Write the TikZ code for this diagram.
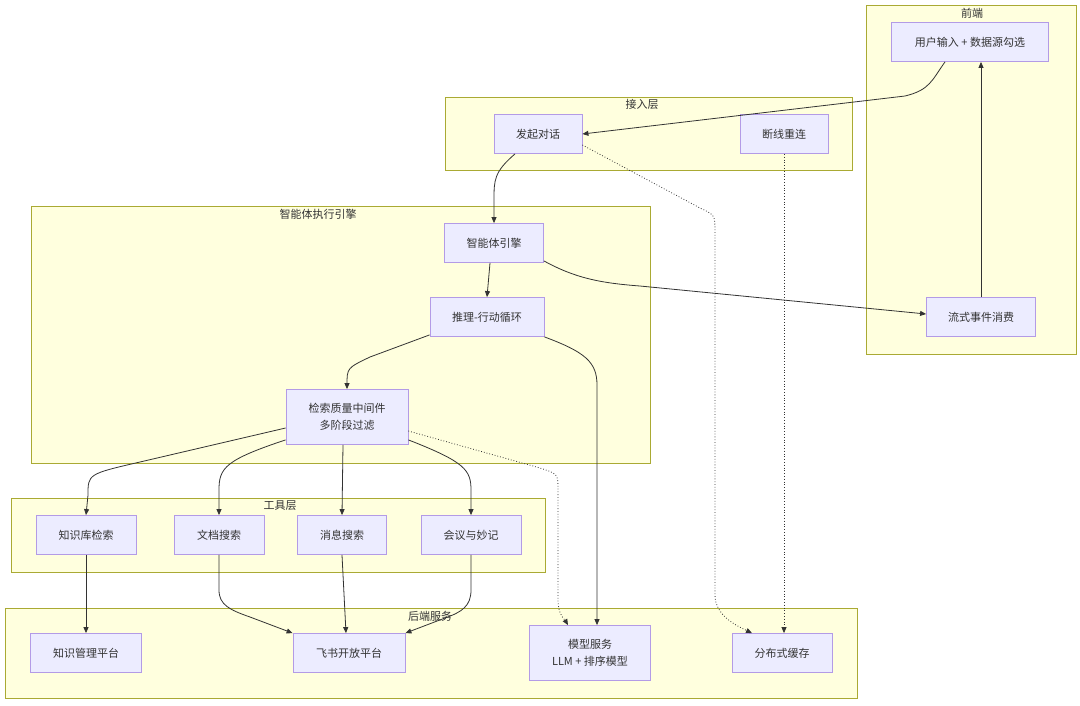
\documentclass[tikz,border=0pt]{standalone}
\usepackage{fontspec}
\setmainfont{Noto Sans CJK SC}
\usetikzlibrary{arrows.meta,calc}
\definecolor{clfill}{HTML}{FFFFDE}
\definecolor{cldraw}{HTML}{AAAA33}
\definecolor{ndfill}{HTML}{ECECFF}
\definecolor{nddraw}{HTML}{9370DB}
\definecolor{edge}{HTML}{333333}
\definecolor{txt}{HTML}{333333}
\begin{document}
\begin{tikzpicture}[x=1pt,y=-1pt,
  cluster/.style={draw=cldraw,fill=clfill,line width=0.8pt},
  cltitle/.style={text=txt,font=\fontsize{11}{13}\selectfont,inner sep=0pt},
  box/.style={draw=nddraw!70,fill=ndfill,line width=0.8pt,text=txt,
    font=\fontsize{11}{17}\selectfont,align=center,inner sep=0pt,
    minimum height=39pt},
  conn/.style={draw=edge,line width=0.8pt,-{Triangle[length=6pt,width=5pt]}},
  dconn/.style={conn,dotted}]
\useasboundingbox (0,0) rectangle (1080,705);
% clusters
\draw[cluster] (866,5) rectangle (1076,354);
\node[cltitle] (tfront) at (972,13) {前端};
\draw[cluster] (445,97) rectangle (852,170);
\node[cltitle] (taccess) at (642,104) {接入层};
\draw[cluster] (31,206) rectangle (650,463);
\node[cltitle] (tengine) at (318,214) {智能体执行引擎};
\draw[cluster] (11,498) rectangle (545,572);
\node[cltitle] (ttool) at (280,506) {工具层};
\draw[cluster] (5,608) rectangle (857,698);
\node[cltitle] (tback) at (430,616) {后端服务};
% nodes
\node[box,minimum width=157pt] (u) at (970,42) {用户输入 + 数据源勾选};
\node[box,minimum width=109pt] (s) at (981,317) {流式事件消费};
\node[box,minimum width=88pt] (f) at (538,134) {发起对话};
\node[box,minimum width=88pt] (r) at (784,134) {断线重连};
\node[box,minimum width=99pt] (a) at (494,243) {智能体引擎};
\node[box,minimum width=114pt] (p) at (487,317) {推理-行动循环};
\node[box,minimum width=122pt,minimum height=55pt] (m) at (347,417) {检索质量中间件\\多阶段过滤};
\node[box,minimum width=100pt] (k1) at (86,535) {知识库检索};
\node[box,minimum width=90pt] (k2) at (219,535) {文档搜索};
\node[box,minimum width=89pt] (k3) at (342,535) {消息搜索};
\node[box,minimum width=100pt] (k4) at (471,535) {会议与妙记};
\node[box,minimum width=111pt] (b1) at (86,653) {知识管理平台};
\node[box,minimum width=112pt] (b2) at (349,653) {飞书开放平台};
\node[box,minimum width=121pt,minimum height=55pt] (mo) at (590,653) {模型服务\\LLM + 排序模型};
\node[box,minimum width=100pt] (d) at (782,653) {分布式缓存};
% edges
\draw[conn] ($(u.south)+(-25,0)$) .. controls (932,80) and (930,90) .. (905,96) -- (f.east);
\draw[conn] (s.north) -- (s.north |- u.south);
\draw[conn] ($(f.south)+(-23,0)$) .. controls (494,172) and (494,180) .. (494,200) -- (a.north);
\draw[dconn] ($(f.east)+(0,11)$) -- (700,208) .. controls (715,215) .. (715,232) -- (715,595) .. controls (715,615) and (735,625) .. ($(d.north)+(-30,0)$);
\draw[dconn] (r.south) -- (r.south |- d.north);
\draw[conn] ($(a.south east)+(0,-2)$) .. controls (575,278) and (600,283) .. (640,286) -- ($(s.west)+(0,-3)$);
\draw[conn] ($(a.south)+(-4,0)$) -- (p.north);
\draw[conn] ($(p.south west)+(0,-2)$) -- (370,357) .. controls (347,368) .. (347,385) -- (m.north);
\draw[conn] (p.south east) .. controls (585,352) and (597,362) .. (597,385) -- ($(mo.north)+(7,0)$);
\draw[conn] ($(m.west)+(0,11)$) -- (140,462) .. controls (88,474) .. (88,495) -- (k1.north);
\draw[conn] ($(m.south west)+(0,-5)$) .. controls (225,460) and (219,468) .. (219,490) -- (k2.north);
\draw[conn] ($(m.south)+(-4,0)$) -- (k3.north);
\draw[conn] ($(m.south east)+(0,-5)$) .. controls (465,462) and (471,470) .. (471,490) -- (k4.north);
\draw[dconn] ($(m.east)+(0,14)$) -- (540,468) .. controls (558,474) .. (558,490) -- (558,600) .. controls (558,615) and (565,620) .. ($(mo.north)+(-22,0)$);
\draw[conn] (k1.south) -- (b1.north);
\draw[conn] (k2.south) -- (219,590) .. controls (219,605) and (230,610) .. (250,617) -- (b2.north west);
\draw[conn] (k3.south) -- ($(b2.north)+(-3,0)$);
\draw[conn] (k4.south) -- (471,590) .. controls (471,606) and (462,612) .. (445,618) -- (b2.north east);
\end{tikzpicture}
\end{document}
